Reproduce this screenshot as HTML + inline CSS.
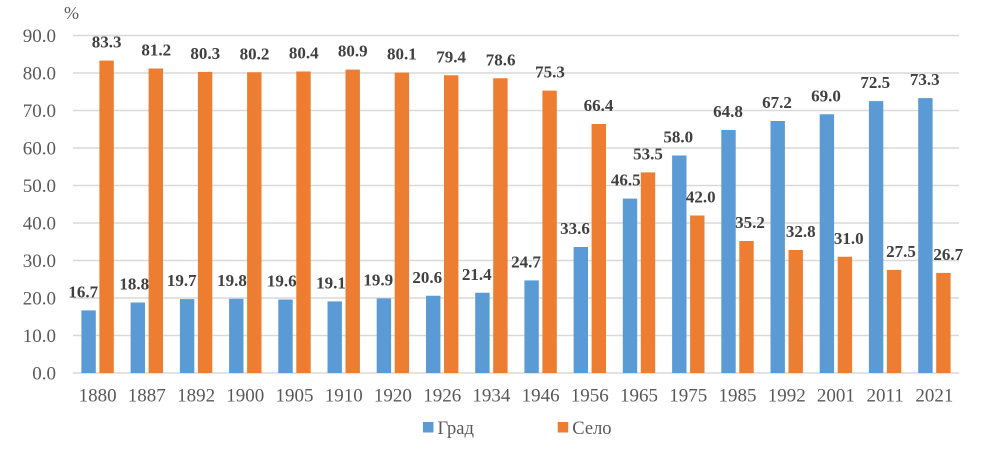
<!DOCTYPE html>
<html>
<head>
<meta charset="utf-8">
<style>
  html,body{margin:0;padding:0;background:#fff;}
  svg{display:block;}
  svg text{font-family:"Liberation Serif","Times New Roman","DejaVu Serif",serif !important;}
  .ax{font-size:19px;fill:#595959;}
  .lb{font-size:17px;font-weight:bold;fill:#404040;}
  .lg{font-size:18.5px;fill:#595959;}
</style>
</head>
<body>
<svg width="991" height="462" viewBox="0 0 991 462" xmlns="http://www.w3.org/2000/svg" font-family="Liberation Serif, Times New Roman, DejaVu Serif, serif">
  <rect width="991" height="462" fill="#fff"/>
  <!-- gridlines -->
  <g stroke="#D9D9D9" stroke-width="1.6">
    <line x1="73" x2="959" y1="35.5" y2="35.5"/>
    <line x1="73" x2="959" y1="73" y2="73"/>
    <line x1="73" x2="959" y1="110.5" y2="110.5"/>
    <line x1="73" x2="959" y1="148" y2="148"/>
    <line x1="73" x2="959" y1="185.5" y2="185.5"/>
    <line x1="73" x2="959" y1="223" y2="223"/>
    <line x1="73" x2="959" y1="260.5" y2="260.5"/>
    <line x1="73" x2="959" y1="298" y2="298"/>
    <line x1="73" x2="959" y1="335.5" y2="335.5"/>
    <line x1="73" x2="959" y1="373" y2="373"/>
  </g>
  <!-- y labels -->
  <g class="ax" text-anchor="end" font-family="Liberation Serif, Times New Roman, DejaVu Serif, serif" font-size="19" fill="#595959">
    <text x="56" y="42">90.0</text>
    <text x="56" y="79.5">80.0</text>
    <text x="56" y="117">70.0</text>
    <text x="56" y="154.5">60.0</text>
    <text x="56" y="192">50.0</text>
    <text x="56" y="229.5">40.0</text>
    <text x="56" y="267">30.0</text>
    <text x="56" y="304.5">20.0</text>
    <text x="56" y="342">10.0</text>
    <text x="56" y="379.5">0.0</text>
  </g>
  <text x="64" y="19" font-family="Liberation Serif, Times New Roman, DejaVu Serif, serif" font-size="18" fill="#595959">%</text>
  <!-- blue bars -->
  <g fill="#5B9BD5">
    <rect x="81.4" y="310.4" width="14.4" height="62.6"/>
    <rect x="130.6" y="302.5" width="14.4" height="70.5"/>
    <rect x="179.9" y="299.1" width="14.4" height="73.9"/>
    <rect x="229.1" y="298.75" width="14.4" height="74.25"/>
    <rect x="278.3" y="299.5" width="14.4" height="73.5"/>
    <rect x="327.5" y="301.4" width="14.4" height="71.6"/>
    <rect x="376.7" y="298.4" width="14.4" height="74.6"/>
    <rect x="426.0" y="295.75" width="14.4" height="77.25"/>
    <rect x="475.2" y="292.75" width="14.4" height="80.25"/>
    <rect x="524.4" y="280.4" width="14.4" height="92.6"/>
    <rect x="573.6" y="247" width="14.4" height="126"/>
    <rect x="622.8" y="198.6" width="14.4" height="174.4"/>
    <rect x="672.1" y="155.5" width="14.4" height="217.5"/>
    <rect x="721.3" y="130" width="14.4" height="243"/>
    <rect x="770.5" y="121" width="14.4" height="252"/>
    <rect x="819.7" y="114.25" width="14.4" height="258.75"/>
    <rect x="868.9" y="101.1" width="14.4" height="271.9"/>
    <rect x="918.2" y="98.1" width="14.4" height="274.9"/>
  </g>
  <!-- orange bars -->
  <g fill="#ED7D31">
    <rect x="99.4" y="60.6" width="14.4" height="312.4"/>
    <rect x="148.6" y="68.5" width="14.4" height="304.5"/>
    <rect x="197.9" y="71.9" width="14.4" height="301.1"/>
    <rect x="247.1" y="72.25" width="14.4" height="300.75"/>
    <rect x="296.3" y="71.5" width="14.4" height="301.5"/>
    <rect x="345.5" y="69.6" width="14.4" height="303.4"/>
    <rect x="394.7" y="72.6" width="14.4" height="300.4"/>
    <rect x="444.0" y="75.25" width="14.4" height="297.75"/>
    <rect x="493.2" y="78.25" width="14.4" height="294.75"/>
    <rect x="542.4" y="90.6" width="14.4" height="282.4"/>
    <rect x="591.6" y="124" width="14.4" height="249"/>
    <rect x="640.8" y="172.4" width="14.4" height="200.6"/>
    <rect x="690.1" y="215.5" width="14.4" height="157.5"/>
    <rect x="739.3" y="241" width="14.4" height="132"/>
    <rect x="788.5" y="250" width="14.4" height="123"/>
    <rect x="837.7" y="256.75" width="14.4" height="116.25"/>
    <rect x="886.9" y="269.9" width="14.4" height="103.1"/>
    <rect x="936.2" y="272.9" width="14.4" height="100.1"/>
  </g>
  <!-- blue labels -->
  <g class="lb" text-anchor="middle" font-family="Liberation Serif, Times New Roman, DejaVu Serif, serif" font-size="17" font-weight="bold" fill="#404040">
    <text x="83.3" y="297.4">16.7</text>
    <text x="134.3" y="289.5">18.8</text>
    <text x="181.7" y="286.1">19.7</text>
    <text x="232" y="285.75">19.8</text>
    <text x="281.7" y="286.5">19.6</text>
    <text x="331" y="288.4">19.1</text>
    <text x="378.3" y="285.4">19.9</text>
    <text x="427.3" y="282.75">20.6</text>
    <text x="476.7" y="279.75">21.4</text>
    <text x="526" y="267.4">24.7</text>
    <text x="575" y="234">33.6</text>
    <text x="625.7" y="185.6">46.5</text>
    <text x="678.3" y="142.5">58.0</text>
    <text x="728" y="117">64.8</text>
    <text x="777" y="108">67.2</text>
    <text x="826" y="101.25">69.0</text>
    <text x="875.3" y="88.1">72.5</text>
    <text x="924.7" y="85.1">73.3</text>
  </g>
  <!-- orange labels -->
  <g class="lb" text-anchor="middle" font-family="Liberation Serif, Times New Roman, DejaVu Serif, serif" font-size="17" font-weight="bold" fill="#404040">
    <text x="106.6" y="47.6">83.3</text>
    <text x="156.3" y="55.5">81.2</text>
    <text x="205.3" y="58.9">80.3</text>
    <text x="254.5" y="59.25">80.2</text>
    <text x="303.7" y="58.5">80.4</text>
    <text x="352.8" y="56.6">80.9</text>
    <text x="401.9" y="59.6">80.1</text>
    <text x="451.1" y="62.25">79.4</text>
    <text x="500.6" y="65.25">78.6</text>
    <text x="550" y="77.6">75.3</text>
    <text x="598.5" y="111">66.4</text>
    <text x="648" y="159.4">53.5</text>
    <text x="700.7" y="202.5">42.0</text>
    <text x="750" y="228">35.2</text>
    <text x="800.8" y="237">32.8</text>
    <text x="848.8" y="243.75">31.0</text>
    <text x="901" y="256.9">27.5</text>
    <text x="948.3" y="259.9">26.7</text>
  </g>
  <!-- x labels -->
  <g class="ax" text-anchor="middle" font-family="Liberation Serif, Times New Roman, DejaVu Serif, serif" font-size="19" fill="#595959">
    <text x="97.6" y="401.5">1880</text>
    <text x="146.8" y="401.5">1887</text>
    <text x="196.1" y="401.5">1892</text>
    <text x="245.3" y="401.5">1900</text>
    <text x="294.5" y="401.5">1905</text>
    <text x="343.7" y="401.5">1910</text>
    <text x="392.9" y="401.5">1920</text>
    <text x="442.2" y="401.5">1926</text>
    <text x="491.4" y="401.5">1934</text>
    <text x="540.6" y="401.5">1946</text>
    <text x="589.8" y="401.5">1956</text>
    <text x="639.0" y="401.5">1965</text>
    <text x="688.3" y="401.5">1975</text>
    <text x="737.5" y="401.5">1985</text>
    <text x="786.7" y="401.5">1992</text>
    <text x="835.9" y="401.5">2001</text>
    <text x="885.1" y="401.5">2011</text>
    <text x="934.4" y="401.5">2021</text>
  </g>
  <!-- legend -->
  <rect x="423" y="422" width="10.5" height="10.5" fill="#5B9BD5"/>
  <text class="lg" x="437.5" y="434" font-family="Liberation Serif, Times New Roman, DejaVu Serif, serif" font-size="18.5" fill="#595959">Град</text>
  <rect x="557.7" y="422" width="10.5" height="10.5" fill="#ED7D31"/>
  <text class="lg" x="572.3" y="434" font-family="Liberation Serif, Times New Roman, DejaVu Serif, serif" font-size="18.5" fill="#595959">Село</text>
</svg>
</body>
</html>
